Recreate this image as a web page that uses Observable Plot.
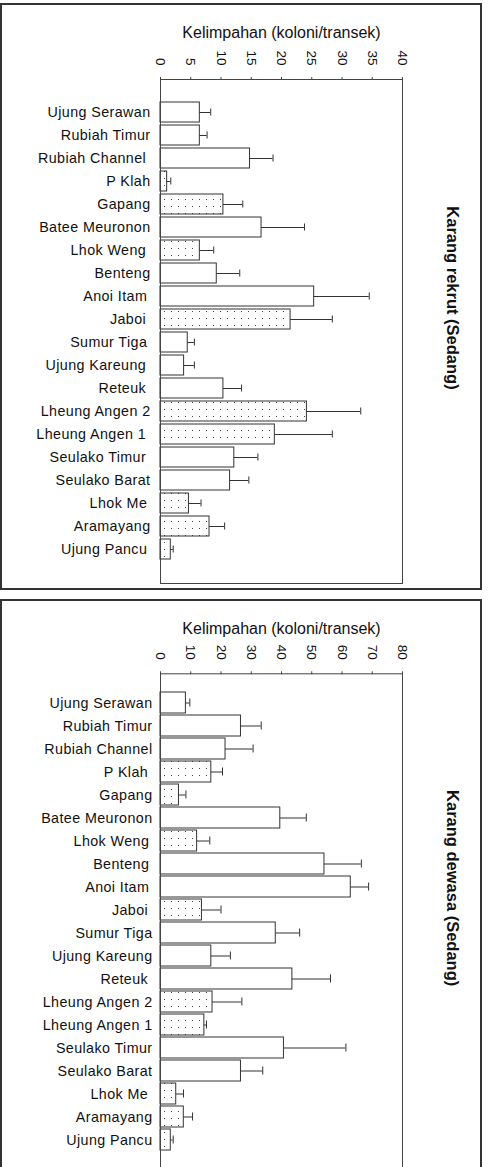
<!DOCTYPE html>
<html><head><meta charset="utf-8">
<script src="https://cdn.jsdelivr.net/npm/d3@7"></script>
<script src="https://cdn.jsdelivr.net/npm/@observablehq/plot@0.6"></script>
<style>
html,body{margin:0;padding:0;background:#fff;}
body{width:489px;height:1167px;position:relative;overflow:hidden;font-family:"Liberation Sans",Arial,sans-serif;}
.panel{position:absolute;left:0;width:482px;box-sizing:border-box;border:2px solid #333;}
.chart{position:absolute;left:0;}
.chart svg{overflow:visible;}
g[aria-label="y-axis tick label"] text{letter-spacing:0.4px;}
g[aria-label="axis-title"] text{letter-spacing:0.5px;}
g[aria-label="side-label"] text{letter-spacing:1px;}
</style></head><body>
<div class="panel" style="top:3px;height:587px"></div>
<div class="panel" style="top:599px;height:620px"></div>
<svg width="0" height="0" style="position:absolute">
  <defs>
    <pattern id="dots" width="7" height="7" patternUnits="userSpaceOnUse">
      <rect width="7" height="7" fill="#fff"></rect>
      <rect x="3" y="3" width="1" height="1" fill="#444"></rect>
    </pattern>
  </defs>
</svg>
<div id="c1" class="chart" style="top:0px"></div>
<div id="c2" class="chart" style="top:590px"></div>
<script>
const sites = ["Ujung Serawan","Rubiah Timur","Rubiah Channel","P Klah","Gapang","Batee Meuronon","Lhok Weng","Benteng","Anoi Itam","Jaboi","Sumur Tiga","Ujung Kareung","Reteuk","Lheung Angen 2","Lheung Angen 1","Seulako Timur","Seulako Barat","Lhok Me","Aramayang","Ujung Pancu"];
const labelsTop = ["Ujung Serawan","Rubiah Timur","Rubiah Channel\u00a0","P Klah","Gapang","Batee Meuronon","Lhok Weng\u00a0","Benteng","Anoi Itam\u2009","Jaboi\u00a0","Sumur Tiga\u2009","Ujung Kareung\u00a0","Reteuk\u00a0","Lheung Angen 2","Lheung Angen 1\u00a0","Seulako Timur\u00a0","Seulako Barat","Lhok Me\u2009","Aramayang","Ujung Pancu\u2009"];
const labelsBottom = ["Ujung Serawan","Rubiah Timur","Rubiah Channel","P Klah\u00a0","Gapang","Batee Meuronon","Lhok Weng\u2009","Benteng\u2009","Anoi Itam\u2009","Jaboi\u00a0","Sumur Tiga","Ujung Kareung","Reteuk\u00a0","Lheung Angen 2","Lheung Angen 1","Seulako Timur","Seulako Barat","Lhok Me\u00a0","Aramayang","Ujung Pancu"];
const dottedSites = ["P Klah","Gapang","Lhok Weng","Jaboi","Lheung Angen 2","Lheung Angen 1","Lhok Me","Aramayang","Ujung Pancu"];

const rekrutMean = [6.5,6.5,14.8,1.1,10.4,16.7,6.5,9.3,25.4,21.5,4.5,3.9,10.4,24.2,18.9,12.2,11.5,4.7,8.1,1.7];
const rekrutErr  = [1.8,1.2,3.8,0.6,3.2,7.1,2.3,3.8,9.1,6.9,1.1,1.7,3.0,8.9,9.5,3.9,3.1,2.0,2.5,0.4];
const dewasaMean = [8.4,26.6,21.5,16.8,6.1,39.6,12.1,54.2,62.9,13.7,38.1,16.8,43.6,17.2,14.5,40.8,26.6,5.2,7.7,3.4];
const dewasaErr  = [1.3,6.7,9.1,3.7,2.3,8.6,4.2,12.2,5.9,6.3,7.9,6.3,12.6,9.7,0.7,20.5,7.2,2.4,2.9,0.8];

const ticksTop = [0,5,10,15,20,25,30,35,40];
const ticksBottom = [0,10,20,30,40,50,60,70,80];
const axisTitle = "Kelimpahan (koloni/transek)";
const sideTop = "Karang rekrut (Sedang)";
const sideBottom = "Karang dewasa (Sedang)";

function build(mean, err) {
  return sites.map((s, i) => ({site: s, v: mean[i], e: err[i], dotted: dottedSites.includes(s)}));
}

function panel({data, labels, ticks, maxX, marginTop, marginBottom, padding, paddingOuter, tickPadding, titleDy, side, sideDy, yPad}) {
  const stroke = "#333";
  return Plot.plot({
    width: 489,
    height: 590,
    marginLeft: 160,
    marginRight: 87,
    marginTop,
    marginBottom,
    style: {fontFamily: "'Liberation Sans', Arial, sans-serif", fontSize: "14px", color: "#111", background: "transparent"},
    x: {domain: [0, maxX], axis: null},
    y: {domain: sites, padding, paddingOuter, axis: null},
    marks: [
      Plot.barX(data.filter(d => !d.dotted), {y: "site", x: "v", fill: "#fff", stroke, strokeWidth: 1}),
      Plot.barX(data.filter(d => d.dotted), {y: "site", x: "v", fill: "url(#dots)", stroke, strokeWidth: 1}),
      Plot.ruleY(data, {y: "site", x1: "v", x2: d => d.v + d.e, stroke, strokeWidth: 1}),
      Plot.tickX(data, {y: "site", x: d => d.v + d.e, insetTop: 6.5, insetBottom: 6.5, stroke, strokeWidth: 1}),
      Plot.frame({stroke: "#444", strokeWidth: 1}),
      Plot.axisX(ticks, {anchor: "top", tickRotate: 90, tickSize: 3, tickPadding, fontSize: 13.5, label: null, stroke: "#444"}),
      Plot.axisY({anchor: "left", tickSize: 0, tickPadding: yPad, fontSize: 14.3, label: null, tickFormat: d => labels[sites.indexOf(d)]}),
      Plot.text([axisTitle], {frameAnchor: "top", dy: titleDy, lineAnchor: "bottom", fontSize: 16, ariaLabel: "axis-title", fill: "#111"}),
      Plot.text([side], {frameAnchor: "right", dx: 50, dy: sideDy, rotate: 90, textAnchor: "middle", lineAnchor: "middle", fontSize: 16.5, fontWeight: "bold", ariaLabel: "side-label", fill: "#111"})
    ]
  });
}

document.getElementById("c1").append(panel({
  data: build(rekrutMean, rekrutErr), labels: labelsTop, ticks: ticksTop, maxX: 40,
  marginTop: 79, marginBottom: 7, padding: 0.113, paddingOuter: 0.70, tickPadding: 11,
  titleDy: -41.5, side: sideTop, sideDy: -33.5, yPad: 10
}));
document.getElementById("c2").append(panel({
  data: build(dewasaMean, dewasaErr), labels: labelsBottom, ticks: ticksBottom, maxX: 80,
  marginTop: 83.3, marginBottom: 12, padding: 0.096, paddingOuter: 0.675, tickPadding: 11,
  titleDy: -40, side: sideBottom, sideDy: -33, yPad: 8
}));
</script>
</body></html>
